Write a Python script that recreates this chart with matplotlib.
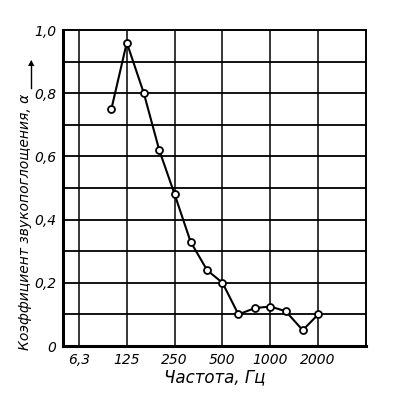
import matplotlib.pyplot as plt
import numpy as np

freq = [100, 125, 160, 200, 250, 315, 400, 500, 630, 800, 1000, 1250, 1600, 2000]
alpha = [0.75, 0.96, 0.80, 0.62, 0.48, 0.33, 0.24, 0.20, 0.10, 0.12, 0.125, 0.11, 0.05, 0.10]

xticks = [62.5, 125, 250, 500, 1000, 2000]
xticklabels = ["6,3", "125", "250", "500", "1000", "2000"]
yticks = [0, 0.2, 0.4, 0.6, 0.8, 1.0]
yticklabels = ["0", "0,2", "0,4", "0,6", "0,8", "1,0"]

plt.rcParams["font.family"] = ["Liberation Sans Narrow", "DejaVu Sans"]
plt.rcParams["font.style"] = "italic"

fig = plt.figure(figsize=(3.99, 4.04), dpi=100)
ax = fig.add_axes([63 / 399, 1 - 346 / 404, 303 / 399, 316 / 404])

ax.set_xscale("log", base=2)
ax.set_xlim(62.5 * 2 ** (-1 / 3), 4000)
ax.set_ylim(0, 1.0)

# grid
for xt in xticks:
    ax.axvline(xt, color="black", linewidth=1.1, zorder=1)
for yt in np.arange(0.1, 1.0, 0.1):
    ax.axhline(yt, color="black", linewidth=1.3, zorder=1)

ax.plot(freq, alpha, color="black", linewidth=1.5, marker="o", markersize=5,
        markerfacecolor="white", markeredgecolor="black", markeredgewidth=1.3, zorder=3)

ax.set_xticks(xticks)
ax.set_xticklabels(xticklabels, fontsize=10)
ax.minorticks_off()
ax.set_yticks(yticks)
ax.set_yticklabels(yticklabels, fontsize=10)
ax.tick_params(length=0, pad=5)

for side in ["left", "bottom"]:
    ax.spines[side].set_linewidth(2.2)
for side in ["top", "right"]:
    ax.spines[side].set_linewidth(1.4)

ax.set_xlabel("Частота, Гц", fontsize=12, labelpad=1)

fig.text(25 / 399, 1 - 222 / 404, "Коэффициент звукопоглощения, α", rotation=90,
         fontsize=10, ha="center", va="center")
fig.add_artist(plt.Line2D([31 / 399, 31 / 399], [1 - 88 / 404, 1 - 66 / 404],
                          color="black", linewidth=1))
fig.text(31 / 399, 1 - 63 / 404, "▲", fontsize=6, ha="center", va="center",
         family="DejaVu Sans", style="normal")

fig.savefig("out.png", dpi=100)
